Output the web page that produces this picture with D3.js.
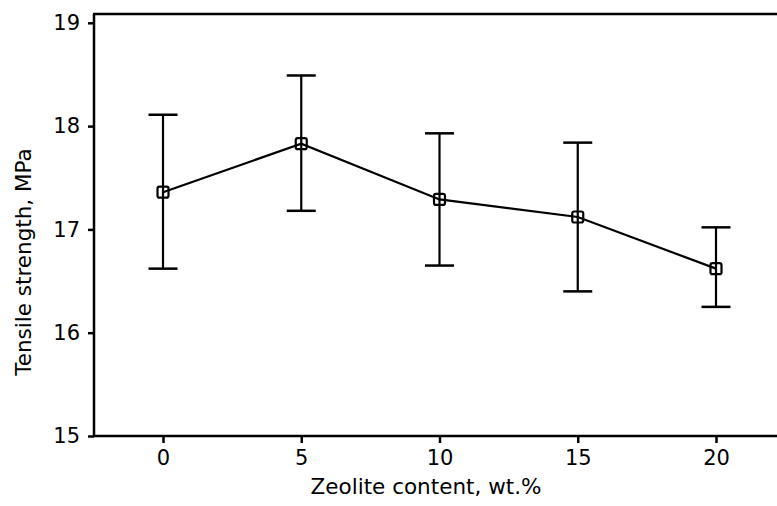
<!DOCTYPE html>
<html>
<head>
<meta charset="utf-8">
<script src="https://cdn.jsdelivr.net/npm/d3@7"></script>
<style>
  body { margin: 0; background: #fff; }
  svg text { font-family: "DejaVu Sans", sans-serif; fill: #000; }
</style>
</head>
<body>
<div id="chart"></div>
<script>
// zeolite loading (wt.%) and measured tensile strength (MPa)
var zeolite = [0, 5, 10, 15, 20];
var strength = [17.36, 17.83, 17.29, 17.12, 16.62];
var errLow = [16.62, 17.18, 16.65, 16.40, 16.25];
var errHigh = [18.11, 18.49, 17.93, 17.84, 17.02];
var xTicks = [0, 5, 10, 15, 20];
var yTicks = [15, 16, 17, 18, 19];

var width = 777, height = 506;
var plotLeft = 94, plotTop = 14, plotBottom = 436, plotRight = 777;

var svg = d3.select("#chart").append("svg")
    .attr("width", width)
    .attr("height", height);

var x = d3.scaleLinear().domain([0, 20]).range([163, 716]);
var y = d3.scaleLinear().domain([15, 19]).range([plotBottom, 22.8]);

// frame: top line (no right side, it runs off the page)
svg.append("line")
    .attr("x1", plotLeft - 1).attr("x2", plotRight)
    .attr("y1", plotTop).attr("y2", plotTop)
    .style("stroke", "black").style("stroke-width", 2.5);

var xAxis = svg.append("g")
    .attr("transform", "translate(0," + plotBottom + ")")
    .call(d3.axisBottom(x).tickValues(xTicks).tickSize(7).tickPadding(7).tickFormat(d3.format("d")));
xAxis.select(".domain").attr("d", "M" + (plotLeft - 1) + ",0H" + plotRight);

var yAxis = svg.append("g")
    .attr("transform", "translate(" + plotLeft + ",0)")
    .call(d3.axisLeft(y).tickValues(yTicks).tickSize(6).tickPadding(8).tickFormat(d3.format("d")));
yAxis.select(".domain").attr("d", "M0," + plotTop + "V" + plotBottom);

svg.selectAll(".domain, .tick line").style("stroke", "black").style("stroke-width", 2.5);
svg.selectAll(".tick text")
    .style("font-size", "21px")
    .style("font-family", "DejaVu Sans, sans-serif");

// error bars
var pts = zeolite.map(function(d, i) {
  return {x: d, v: strength[i], lo: errLow[i], hi: errHigh[i]};
});

var eb = svg.append("g").attr("class", "errorbars");
eb.selectAll("line.stem").data(pts).enter().append("line")
    .attr("class", "stem")
    .attr("x1", function(d) { return x(d.x); })
    .attr("x2", function(d) { return x(d.x); })
    .attr("y1", function(d) { return y(d.lo); })
    .attr("y2", function(d) { return y(d.hi); })
    .style("stroke", "black").style("stroke-width", 2.2);
["lo", "hi"].forEach(function(k) {
  eb.selectAll("line.cap" + k).data(pts).enter().append("line")
      .attr("class", "cap" + k)
      .attr("x1", function(d) { return x(d.x) - 14.5; })
      .attr("x2", function(d) { return x(d.x) + 14.5; })
      .attr("y1", function(d) { return y(d[k]); })
      .attr("y2", function(d) { return y(d[k]); })
      .style("stroke", "black").style("stroke-width", 2.5);
});

// connecting line
svg.append("path")
    .datum(pts)
    .attr("d", d3.line().x(function(d) { return x(d.x); }).y(function(d) { return y(d.v); }))
    .style("fill", "none").style("stroke", "black").style("stroke-width", 2.2);

// open square markers
svg.selectAll("rect.marker").data(pts).enter().append("rect")
    .attr("class", "marker")
    .attr("x", function(d) { return x(d.x) - 5.5; })
    .attr("y", function(d) { return y(d.v) - 5.5; })
    .attr("width", 11).attr("height", 11)
    .attr("rx", 2).attr("ry", 2)
    .style("fill", "none").style("stroke", "black").style("stroke-width", 2.2);

// axis titles
svg.append("text")
    .attr("x", 426).attr("y", 494)
    .attr("text-anchor", "middle")
    .style("font-size", "21.5px")
    .text("Zeolite content, wt.%");

svg.append("text")
    .attr("transform", "translate(31,262) rotate(-90)")
    .attr("text-anchor", "middle")
    .style("font-size", "21.5px")
    .text("Tensile strength, MPa");
</script>
</body>
</html>
